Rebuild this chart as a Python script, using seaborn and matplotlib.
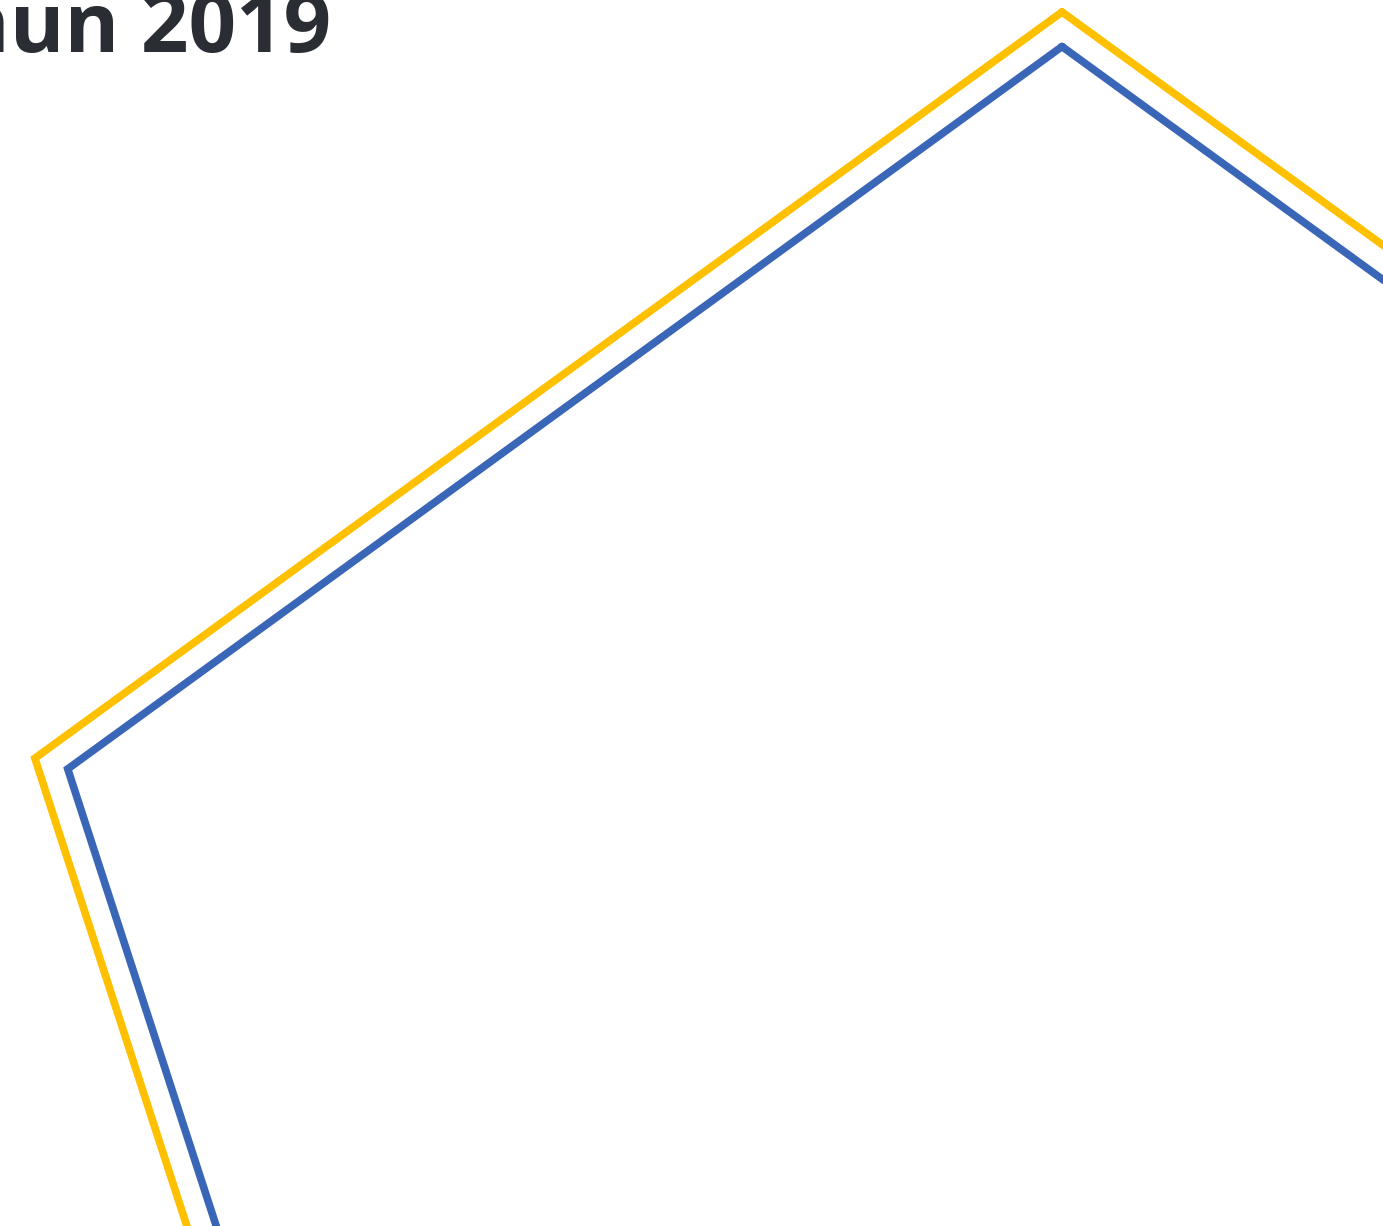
import numpy as np
import pandas as pd
import seaborn as sns
import matplotlib.pyplot as plt

# Data (radar, 5 aspects; only part of the chart is visible)
categories = ['Aspek 1', 'Aspek 2', 'Aspek 3', 'Aspek 4', 'Aspek 5']
target = [100, 100, 100, 100, 100]
capaian = [96.8, 96.8, 96.8, 96.8, 96.8]

n = len(categories)
angles = np.linspace(0, 2 * np.pi, n, endpoint=False)
theta = np.append(angles, 2 * np.pi)

df = pd.DataFrame({
    'theta': np.concatenate([theta, theta]),
    'nilai': target + target[:1] + capaian + capaian[:1],
    'seri': ['Target'] * (n + 1) + ['Capaian'] * (n + 1),
})

sns.set_style('white')
plt.rcParams['font.family'] = ['Open Sans', 'DejaVu Sans']

W, H = 1383, 1226
fig = plt.figure(figsize=(W / 100, H / 100), dpi=100)

# big polar axes, centred at (1062, 1092) px from top-left, radius 1080 px
cx, cy, R = 1062, H - 1092, 1080
ax = fig.add_axes([(cx - R) / W, (cy - R) / H, 2 * R / W, 2 * R / H], projection='polar')
ax.set_theta_offset(np.pi / 2)

sns.lineplot(data=df, x='theta', y='nilai', hue='seri', sort=False,
             palette={'Target': '#FFC000', 'Capaian': '#3A66B8'},
             linewidth=5.5, legend=False, ax=ax)
for line in ax.lines:
    line.set_clip_on(False)
    line.set_solid_joinstyle('miter')

# labels of the axes lie outside the visible part of the chart
ax.set_ylim(0, 100)
ax.set_xticks(angles)
ax.set_xticklabels([])
ax.set_yticks([])
ax.grid(False)
ax.spines['polar'].set_visible(False)
ax.set_xlabel('')
ax.set_ylabel('')

fig.text(331 / W, 1 - 52 / H, 'Tahun 2019', ha='right', va='baseline',
         fontsize=60, fontweight='bold', color='#2b2d35')

plt.savefig('out.png', dpi=100)
